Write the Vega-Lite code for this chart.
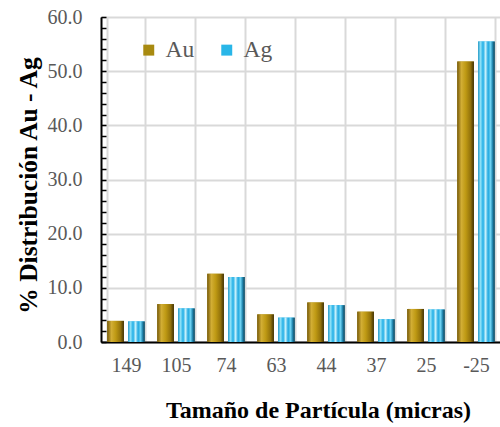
{
  "$schema": "https://vega.github.io/schema/vega-lite/v6.json",
  "width": 400,
  "height": 325,
  "autosize": "none",
  "padding": {"left": 101, "top": 17, "right": 0, "bottom": 85},
  "config": {
    "font": "Liberation Serif",
    "view": {"stroke": "#222", "strokeWidth": 1}
  },
  "data": {
    "values": [
      {"size": "149", "serie": "Au", "value": 3.9},
      {"size": "105", "serie": "Au", "value": 7.0},
      {"size": "74", "serie": "Au", "value": 12.6},
      {"size": "63", "serie": "Au", "value": 5.1},
      {"size": "44", "serie": "Au", "value": 7.3},
      {"size": "37", "serie": "Au", "value": 5.6},
      {"size": "25", "serie": "Au", "value": 6.1},
      {"size": "-25", "serie": "Au", "value": 51.8},
      {"size": "149", "serie": "Ag", "value": 3.8},
      {"size": "105", "serie": "Ag", "value": 6.2},
      {"size": "74", "serie": "Ag", "value": 12.0},
      {"size": "63", "serie": "Ag", "value": 4.5},
      {"size": "44", "serie": "Ag", "value": 6.8},
      {"size": "37", "serie": "Ag", "value": 4.2},
      {"size": "25", "serie": "Ag", "value": 6.0},
      {"size": "-25", "serie": "Ag", "value": 55.5}
    ]
  },
  "encoding": {
    "x": {
      "field": "size", "type": "nominal", "sort": null,
      "scale": {"paddingInner": 0.25, "paddingOuter": 0.125},
      "axis": {
        "title": "Tamaño de Partícula (micras)",
        "labelAngle": 0, "labelFontSize": 20, "labelColor": "#595959",
        "labelPadding": 13, "ticks": false,
        "grid": true, "tickBand": "extent", "gridColor": "#D9D9D9", "gridWidth": 2,
        "domainColor": "#000", "domainWidth": 2,
        "titleFontSize": 24, "titleFontWeight": "bold", "titleColor": "#000",
        "titlePadding": 23, "titleX": 217
      }
    },
    "xOffset": {"field": "serie", "type": "nominal", "sort": ["Au", "Ag"], "scale": {"paddingInner": 0.2}},
    "y": {
      "field": "value", "type": "quantitative",
      "scale": {"domain": [0, 60], "nice": false},
      "axis": {
        "title": "% Distribución Au - Ag",
        "values": [0,2,4,6,8,10,12,14,16,18,20,22,24,26,28,30,32,34,36,38,40,42,44,46,48,50,52,54,56,58,60],
        "labelExpr": "datum.value % 10 === 0 ? format(datum.value, '.1f') : ''",
        "labelFontSize": 20, "labelColor": "#595959", "labelPadding": 24,
        "tickSize": -5, "tickColor": "#000", "tickWidth": 1.5,
        "gridColor": "#D9D9D9", "gridWidth": 2,
        "gridOpacity": {"condition": {"test": "datum.value % 10 === 0", "value": 1}, "value": 0},
        "domainColor": "#000", "domainWidth": 2,
        "titleFontSize": 25.5, "titleFontWeight": "bold", "titleColor": "#000",
        "titlePadding": 6, "titleY": 168
      }
    }
  },
  "layer": [
    {
      "mark": {"type": "bar"},
      "encoding": {
        "color": {
          "field": "serie", "type": "nominal", "sort": ["Au", "Ag"],
          "scale": {"domain": ["Au", "Ag"], "range": ["#A88A10", "#29B6E8"]},
          "legend": {
            "title": null, "orient": "none", "direction": "horizontal",
            "legendX": 36, "legendY": 21,
            "symbolType": "square", "symbolSize": 120, "symbolStrokeWidth": 0,
            "labelFontSize": 23.5, "labelColor": "#595959", "columnPadding": 20,
            "labelOffset": 5
          }
        }
      }
    },
    {
      "transform": [{"filter": "datum.serie === 'Au'"}],
      "mark": {
        "type": "bar",
        "fill": {
          "gradient": "linear", "x1": 0, "y1": 0, "x2": 1, "y2": 0,
          "stops": [
            {"offset": 0, "color": "#75590a"},
            {"offset": 0.25, "color": "#d2ae35"},
            {"offset": 0.5, "color": "#bf9a14"},
            {"offset": 0.8, "color": "#93720b"},
            {"offset": 1, "color": "#403104"}
          ]
        }
      }
    },
    {
      "transform": [{"filter": "datum.serie === 'Ag'"}],
      "mark": {
        "type": "bar",
        "fill": {
          "gradient": "linear", "x1": 0, "y1": 0, "x2": 1, "y2": 0,
          "stops": [
            {"offset": 0, "color": "#2a9cc7"},
            {"offset": 0.15, "color": "#8fe1f8"},
            {"offset": 0.3, "color": "#1faee6"},
            {"offset": 0.45, "color": "#c8f1fc"},
            {"offset": 0.6, "color": "#1fa8e0"},
            {"offset": 0.75, "color": "#6fd2f2"},
            {"offset": 0.88, "color": "#1a7fa8"},
            {"offset": 1, "color": "#1d3e4c"}
          ]
        }
      }
    }
  ]
}
